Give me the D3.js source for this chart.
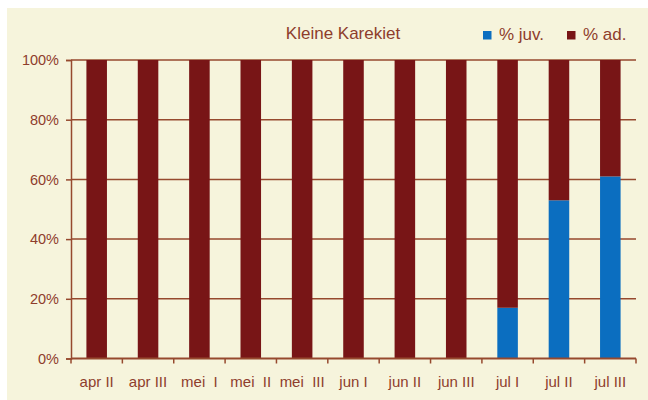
<!DOCTYPE html>
<html>
<head>
<meta charset="utf-8">
<script src="https://cdn.jsdelivr.net/npm/d3@7"></script>
<style>
html,body{margin:0;padding:0;background:#ffffff;}
svg{display:block;}
text{font-family:"Liberation Sans",Arial,sans-serif;}
</style>
</head>
<body>
<svg id="chart" width="648" height="400"></svg>
<script>
const categories = ["apr II","apr III","mei  I","mei  II","mei  III","jun I","jun II","jun III","jul I","jul II","jul III"];
const juv = [0,0,0,0,0,0,0,0,17,53,61];
const ad  = [100,100,100,100,100,100,100,100,83,47,39];
const yTicks = [0,20,40,60,80,100];
const seriesNames = ["% juv.","% ad."];
const title = "Kleine Karekiet";

const W = 648, H = 400;
const bg = "#f6f4dc", textCol = "#8e3d2c", lineCol = "#96492e";
const colJuv = "#0b6ec0", colAd = "#781516";
const m = {left:71, right:648-636, top:60, bottom:400-358.5};

const svg = d3.select("#chart");
svg.append("rect").attr("x",7).attr("y",8).attr("width",W-7).attr("height",H-8).attr("fill",bg);

const x = d3.scaleBand().domain(categories).range([m.left, W-m.right]).paddingInner(0.6).paddingOuter(0.3);
const y = d3.scaleLinear().domain([0,100]).range([H-m.bottom, m.top]);

// gridlines
svg.append("g").selectAll("line").data(yTicks.filter(d=>d>0)).join("line")
  .attr("x1",m.left).attr("x2",W-m.right)
  .attr("y1",d=>y(d)).attr("y2",d=>y(d))
  .attr("stroke",lineCol).attr("stroke-width",1.5);

const rows = categories.map((c,i)=>({cat:c, juv:juv[i], ad:ad[i]}));
const stack = d3.stack().keys(["juv","ad"])(rows);
const colors = {juv:colJuv, ad:colAd};
svg.append("g").selectAll("g").data(stack).join("g")
  .attr("fill",d=>colors[d.key])
  .selectAll("rect").data(d=>d).join("rect")
  .attr("x",d=>x(d.data.cat))
  .attr("width",x.bandwidth())
  .attr("y",d=>y(d[1]))
  .attr("height",d=>y(d[0])-y(d[1]));

// y axis
const yAxis = d3.axisLeft(y).tickValues(yTicks).tickFormat(d=>d+"%").tickSize(5).tickPadding(7);
const gy = svg.append("g").attr("transform",`translate(${m.left},0)`).call(yAxis);
gy.select(".domain").attr("stroke",lineCol).attr("stroke-width",1.5);
gy.selectAll(".tick line").attr("stroke",lineCol).attr("stroke-width",1.5);
gy.selectAll(".tick text").attr("fill",textCol).style("font-size","14.5px").style("font-family","'Liberation Sans',Arial,sans-serif");

// x axis
const gx = svg.append("g").attr("transform",`translate(0,${H-m.bottom})`);
gx.append("line").attr("x1",m.left).attr("x2",W-m.right).attr("y1",0).attr("y2",0)
  .attr("stroke",lineCol).attr("stroke-width",2);
const bounds = d3.range(categories.length+1).map(i=>m.left + i*(W-m.right-m.left)/categories.length);
gx.selectAll("line.tk").data(bounds).join("line").attr("class","tk")
  .attr("x1",d=>d).attr("x2",d=>d).attr("y1",0).attr("y2",5)
  .attr("stroke",lineCol).attr("stroke-width",1.5);
gx.selectAll("text").data(categories).join("text")
  .attr("x",d=>x(d)+x.bandwidth()/2).attr("y",28)
  .attr("text-anchor","middle").attr("fill",textCol)
  .style("font-size","15px").style("white-space","pre")
  .text(d=>d);

// title
svg.append("text").attr("x",343).attr("y",39).attr("text-anchor","middle")
  .attr("fill",textCol).style("font-size","17px").text(title);

// legend
const leg = [{name:seriesNames[0],col:colJuv,x:483},{name:seriesNames[1],col:colAd,x:567}];
const lg = svg.append("g").selectAll("g").data(leg).join("g").attr("transform",d=>`translate(${d.x},0)`);
lg.append("rect").attr("x",0).attr("y",31).attr("width",8.5).attr("height",8.5).attr("fill",d=>d.col);
lg.append("text").attr("x",16).attr("y",40).attr("fill",textCol).style("font-size","17px").text(d=>d.name);
</script>
</body>
</html>
